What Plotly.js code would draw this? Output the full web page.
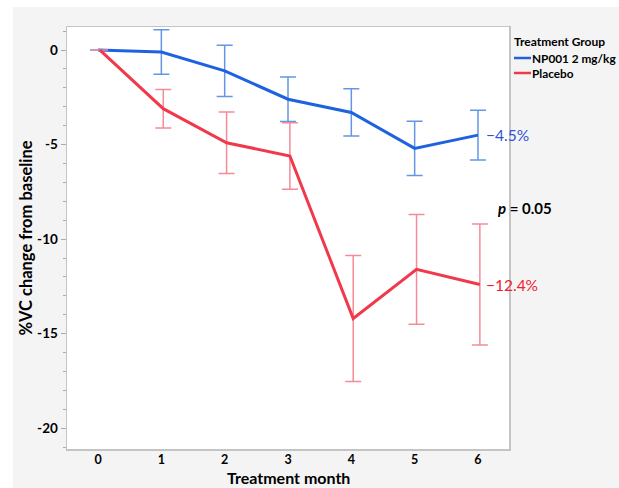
<!DOCTYPE html>
<html><head><meta charset="utf-8">
<script src="https://cdn.plot.ly/plotly-3.0.1.min.js"></script>
<style>html,body{margin:0;padding:0;background:#fff}#chart{width:619px;height:488px}</style>
</head><body><div id="chart"></div>
<script>
const months = [0, 1, 2, 3, 4, 5, 6];
const npMean = [0, -0.1, -1.1, -2.6, -3.3, -5.2, -4.5];
const npErr = [0, 1.18, 1.36, 1.18, 1.25, 1.44, 1.32];
const plMean = [0, -3.1, -4.9, -5.6, -14.2, -11.6, -12.4];
const plErr = [0, 1.02, 1.63, 1.76, 3.33, 2.9, 3.2];
const seriesNames = ['NP001 2 mg/kg', 'Placebo'];
const endLabels = ['\u22124.5%', '\u221212.4%'];
const xTitle = 'Treatment month';
const yTitle = '%VC change from baseline';
const yTickVals = [0, -5, -10, -15, -20];
const yTickText = ['0', '-5', '-10', '-15', '-20'];
const xTickVals = [0, 1, 2, 3, 4, 5, 6];

const FONT = 'Lato, "Noto Sans", sans-serif';
const blue = '#1f62e0', blueErr = '#6496e6';
const red = '#f0394b', redErr = '#f58b97';
const dodge = 0.03;

const traces = [
  {x: months, y: npMean, name: seriesNames[0], mode: 'lines', type: 'scatter',
   line: {color: blue, width: 3},
   error_y: {type: 'data', array: npErr, visible: true, color: blueErr, thickness: 1.5, width: 8}},
  {x: months.map(m => m + dodge), y: plMean, name: seriesNames[1], mode: 'lines', type: 'scatter',
   line: {color: red, width: 3},
   error_y: {type: 'data', array: plErr, visible: true, color: redErr, thickness: 1.5, width: 8}}
];

const W = 442, H = 422, L = 67, T = 27;
const px = x => (x - L) / W;
const py = y => (T + H - y) / H;

const layout = {
  width: 619, height: 488,
  margin: {l: 67, r: 110, t: 27, b: 39},
  paper_bgcolor: '#f4f4f4', plot_bgcolor: '#ffffff',
  showlegend: false,
  font: {family: FONT, color: '#000'},
  xaxis: {range: [-0.49, 6.49], tickvals: xTickVals, ticks: '', showgrid: false, zeroline: false,
    showline: true, linecolor: '#c4c4c4', linewidth: 1.5, mirror: true, ticklabelstandoff: -2,
    tickfont: {size: 12.5, weight: 'bold', family: FONT}},
  yaxis: {range: [-21.1, 1.22], tickvals: yTickVals, ticktext: yTickText, ticks: 'outside', ticklen: 5,
    tickcolor: '#aaa', showgrid: false, zeroline: false,
    showline: true, linecolor: '#c4c4c4', linewidth: 1.5, mirror: true,
    minor: {tickvals: [-21,-19,-18,-17,-16,-14,-13,-12,-11,-9,-8,-7,-6,-4,-3,-2,-1,1], ticks: 'outside', ticklen: 3, tickcolor: '#aaa'},
    tickfont: {size: 13.5, weight: 'bold', family: FONT},
    title: {text: yTitle, font: {size: 16.5, weight: 'bold', family: FONT}, standoff: 0}},
  shapes: [
    {type: 'rect', xref: 'paper', yref: 'paper', x0: px(0), x1: px(619), y0: py(0), y1: py(7), fillcolor: '#fff', line: {width: 0}, layer: 'below'},
    {type: 'rect', xref: 'paper', yref: 'paper', x0: px(0), x1: px(13), y0: py(488), y1: py(0), fillcolor: '#fff', line: {width: 0}, layer: 'below'},
    {type: 'line', xref: 'paper', yref: 'paper', x0: px(514), x1: px(531), y0: py(58), y1: py(58), line: {color: blue, width: 2.5}},
    {type: 'line', xref: 'paper', yref: 'paper', x0: px(514), x1: px(531), y0: py(73), y1: py(73), line: {color: red, width: 2.5}}
  ],
  annotations: [
    {xref: 'paper', yref: 'paper', x: 0.5, y: py(477.5), text: '<b>' + xTitle + '</b>', showarrow: false, xanchor: 'center', yanchor: 'middle',
     font: {size: 16, color: '#000', family: FONT}, borderpad: 0},
    {xref: 'x', yref: 'y', x: months[6] + 0.1, y: npMean[6], text: endLabels[0], showarrow: false, xanchor: 'left', yanchor: 'middle',
     font: {size: 15.5, color: '#2f52dc', family: FONT}},
    {xref: 'x', yref: 'y', x: months[6] + 0.1, y: plMean[6], text: endLabels[1], showarrow: false, xanchor: 'left', yanchor: 'middle',
     font: {size: 15.5, color: '#f0202e', family: FONT}},
    {xref: 'paper', yref: 'paper', x: px(496), y: py(208), text: '<b><i>p</i> = 0.05</b>', showarrow: false, xanchor: 'left', yanchor: 'middle',
     font: {size: 15, color: '#000', family: FONT}},
    {xref: 'paper', yref: 'paper', x: px(512), y: py(41), text: '<b>Treatment Group</b>', showarrow: false, xanchor: 'left', yanchor: 'middle',
     font: {size: 12, color: '#000', family: FONT}},
    {xref: 'paper', yref: 'paper', x: px(530), y: py(58), text: '<b>' + seriesNames[0] + '</b>', showarrow: false, xanchor: 'left', yanchor: 'middle',
     font: {size: 11.8, color: '#000', family: FONT}},
    {xref: 'paper', yref: 'paper', x: px(530), y: py(73), text: '<b>' + seriesNames[1] + '</b>', showarrow: false, xanchor: 'left', yanchor: 'middle',
     font: {size: 11.8, color: '#000', family: FONT}}
  ]
};
Plotly.newPlot('chart', traces, layout, {displayModeBar: false, staticPlot: true});
</script></body></html>
